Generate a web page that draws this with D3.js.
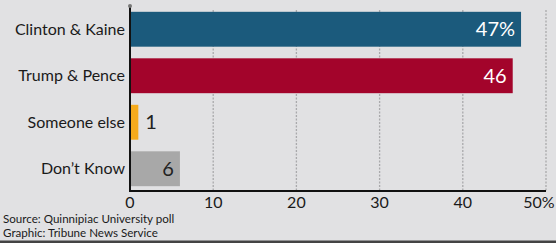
<!DOCTYPE html>
<html>
<head>
<meta charset="utf-8">
<script src="https://cdn.jsdelivr.net/npm/d3@7"></script>
<style>
  html, body { margin: 0; padding: 0; background: #e1e1e3; }
  svg { display: block; font-family: Lato, "Open Sans", sans-serif; }
  .cat-label { font-size: 16px; fill: #1a1a1a; }
  .tick-label { font-size: 16px; fill: #1a1a1a; }
  .val-label { font-size: 20px; }
  .source { font-size: 11.6px; fill: #1a1a1a; }
</style>
</head>
<body>
<svg id="chart"></svg>
<script>
// Poll data (percent)
const categories = ['Clinton & Kaine', 'Trump & Pence', 'Someone else', "Don\u2019t Know"];
const values = [47, 46, 1, 6];
const valueLabels = ['47%', '46', '1', '6'];
const barColors = ['#1b5a7c', '#a3042b', '#f6ab1c', '#a8a8a8'];
const xTicks = [0, 10, 20, 30, 40, 50];
const sourceLines = ['Source: Quinnipiac University poll', 'Graphic: Tribune News Service'];

const width = 556, height = 243;
const svg = d3.select('#chart').attr('width', width).attr('height', height);

svg.append('rect').attr('width', width).attr('height', height).attr('fill', '#e1e1e3');

const x = d3.scaleLinear().domain([0, 50]).range([130, 546]);
const y = d3.scaleBand().domain(categories).range([6, 192])
    .paddingInner(0.25).paddingOuter(0.125);
const axisY = 191;

// dotted gridlines
svg.selectAll('.grid')
  .data(xTicks.slice(1))
  .join('line')
  .attr('class', 'grid')
  .attr('x1', d => x(d)).attr('x2', d => x(d))
  .attr('y1', 10).attr('y2', axisY)
  .attr('stroke', '#a9a9ab')
  .attr('stroke-width', 1.3)
  .attr('stroke-dasharray', '2,1.5');

// bars
svg.selectAll('.bar')
  .data(values)
  .join('rect')
  .attr('class', 'bar')
  .attr('x', x(0))
  .attr('y', (d, i) => y(categories[i]))
  .attr('width', d => x(d) - x(0))
  .attr('height', y.bandwidth())
  .attr('fill', (d, i) => barColors[i]);

// value labels: inside (white) for the big bars, dark for the small ones
svg.selectAll('.val-label')
  .data(values)
  .join('text')
  .attr('class', 'val-label')
  .attr('x', (d, i) => i === 2 ? x(d) + 7 : x(d) - 6)
  .attr('y', (d, i) => y(categories[i]) + y.bandwidth() / 2)
  .attr('dy', '0.36em')
  .attr('text-anchor', (d, i) => i === 2 ? 'start' : 'end')
  .attr('fill', (d, i) => i < 2 ? '#ffffff' : '#222')
  .text((d, i) => valueLabels[i]);

// category labels
svg.selectAll('.cat-label')
  .data(categories)
  .join('text')
  .attr('class', 'cat-label')
  .attr('x', 125)
  .attr('y', d => y(d) + y.bandwidth() / 2)
  .attr('dy', '0.35em')
  .attr('text-anchor', 'end')
  .text(d => d);

// axes lines
svg.append('line')
  .attr('x1', x(0)).attr('x2', x(0))
  .attr('y1', 5).attr('y2', axisY + 1)
  .attr('stroke', '#111').attr('stroke-width', 2);
svg.append('circle').attr('cx', x(0)).attr('cy', 6).attr('r', 2).attr('fill', '#777');
svg.append('line')
  .attr('x1', x(0) - 1).attr('x2', x(50))
  .attr('y1', axisY).attr('y2', axisY)
  .attr('stroke', '#111').attr('stroke-width', 2);

// tick labels
svg.selectAll('.tick-label')
  .data(xTicks)
  .join('text')
  .attr('class', 'tick-label')
  .attr('x', d => d === 50 ? x(d) - 7 : x(d))
  .attr('y', 207.5)
  .attr('text-anchor', 'middle')
  .text(d => d === 50 ? d + '%' : d);

// source
svg.selectAll('.source')
  .data(sourceLines)
  .join('text')
  .attr('class', 'source')
  .attr('x', 3)
  .attr('y', (d, i) => 222.5 + i * 14)
  .text(d => d);

// bottom rule
svg.append('rect').attr('x', 0).attr('y', 240.5).attr('width', width).attr('height', 3).attr('fill', '#444');
</script>
</body>
</html>
